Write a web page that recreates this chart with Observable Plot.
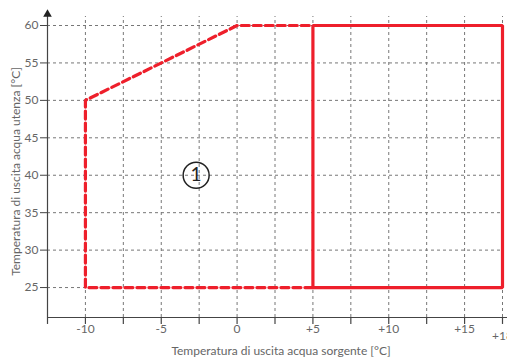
<!DOCTYPE html>
<html><head><meta charset="utf-8">
<script src="https://cdn.jsdelivr.net/npm/d3@7"></script>
<script src="https://cdn.jsdelivr.net/npm/@observablehq/plot@0.6"></script>
<style>body{margin:0;background:#fff;} svg{display:block;}</style>
</head><body><div id="chart"></div>
<script>
const xTicks = [-12.5,-10,-7.5,-5,-2.5,0,2.5,5,7.5,10,12.5,15,17.5];
const xGrid = [-10,-7.5,-5,-2.5,0,2.5,5,7.5,10,12.5,15,17.5];
const xLabels = [-10,-5,0,5,10,15];
const xLastLabel = {x: 17.5, text: "+18"};
const yTicks = [25,30,35,40,45,50,55,60];
const dashedX = [5,-10,-10,0,5];
const dashedY = [25,25,50,60,60];
const solidX = [5,17.5,17.5,5,5];
const solidY = [25,25,60,60,25];
const zoneLabel = {x: -2.7, y: 40, text: "1"};
const xTitle = "Temperatura di uscita acqua sorgente [°C]";
const yTitle = "Temperatura di uscita acqua utenza [°C]";

const dashed = dashedX.map((x,i)=>({x, y: dashedY[i]}));
const solid = solidX.map((x,i)=>({x, y: solidY[i]}));
const gray = "#666";
const font = "Lato, 'Noto Sans', sans-serif";

const chart = Plot.plot({
  width: 507, height: 363,
  marginLeft: 47, marginRight: 5, marginTop: 25, marginBottom: 46,
  style: {fontFamily: font, fontSize: "12px", color: gray, background: "#fff", overflow: "visible"},
  x: {domain: [-12.5, 17.5], axis: null},
  y: {domain: [21, 60], axis: null},
  marks: [
    // grid
    Plot.ruleX(xGrid, {x: d=>d, y1: 21, y2: 61.2, stroke: "#777", strokeWidth: 1, strokeDasharray: "3,3"}),
    Plot.ruleY(yTicks, {y: d=>d, x1: -12.5, x2: 17.5, stroke: "#777", strokeWidth: 1, strokeDasharray: "3,3"}),
    // axes lines
    Plot.ruleX([-12.5], {x: d=>d, y1: 21, y2: 61.5, stroke: "#444", strokeWidth: 1.2}),
    Plot.dot([{x:-12.5,y:61.5}], {x:"x", y:"y", symbol:"triangle", r: 3.2, fill:"#222", stroke:"none"}),
    Plot.ruleY([21], {y: d=>d, x1: -12.5, x2: 17.9, stroke: "#444", strokeWidth: 1.2}),
    // ticks
    Plot.ruleX(xTicks, {x: d=>d, y1: 21, y2: 20.07, stroke: "#444", strokeWidth: 1.2}),
    Plot.axisY(yTicks, {tickSize: 7, tickPadding: 2, tickFormat: d=>String(d), stroke:"#444", fill: gray, fontSize: 12, label: null}),
    Plot.axisX(xLabels, {tickSize: 0, tickPadding: 7, tickFormat: d=> d>0 ? "+"+d : String(d), fill: gray, fontSize: 12, label: null}),
    Plot.text([xLastLabel], {x:"x", y: () => 21, text:"text", dy: 19, fill: gray, fontSize: 12}),
    // dashed envelope
    Plot.line(dashed, {x:"x", y:"y", stroke:"#ee1f2b", strokeWidth: 3.2, strokeDasharray: "8,4", strokeLinejoin:"round"}),
    // solid rectangle
    Plot.line(solid, {x:"x", y:"y", stroke:"#ee1f2b", strokeWidth: 3.2, strokeLinejoin:"miter"}),
    // circled label
    Plot.dot([zoneLabel], {x:"x", y:"y", r: 13, stroke:"#222", strokeWidth: 1.5, fill:"none"}),
    Plot.text([zoneLabel], {x:"x", y:"y", text:"text", fontSize: 19, fill:"#222", fontFamily: font}),
    // titles
    Plot.text([xTitle], {frameAnchor:"bottom", textAnchor: "middle", text: d=>d, dy: 37, dx: 6, fill: gray, fontSize: 12}),
    Plot.text([yTitle], {frameAnchor:"left", textAnchor: "middle", text: d=>d, rotate: -90, dx: -31, dy: 0, fill: gray, fontSize: 12})
  ]
});
document.getElementById("chart").appendChild(chart);
</script>
</body></html>
